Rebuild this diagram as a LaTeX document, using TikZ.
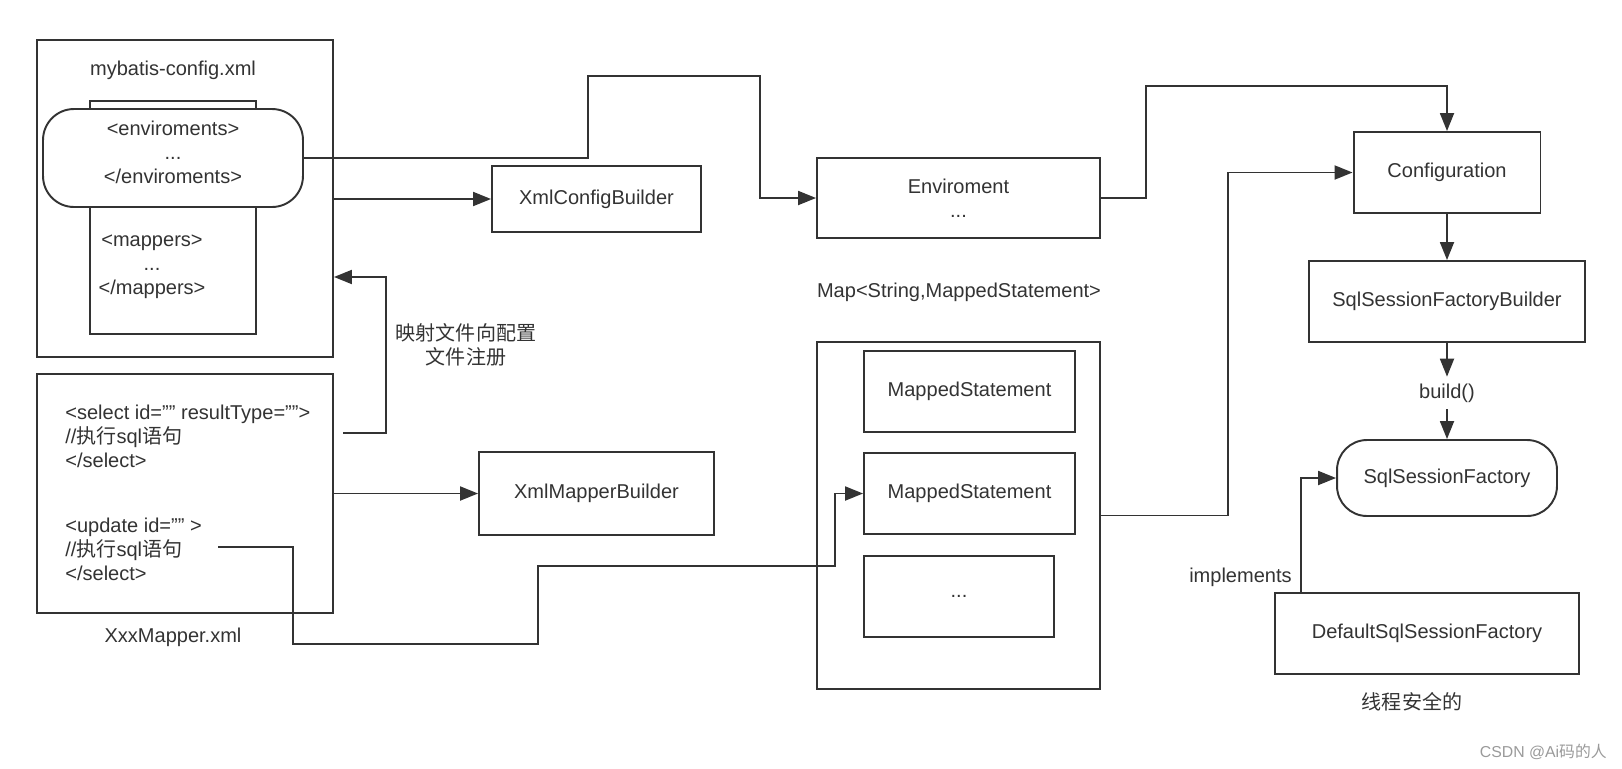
\documentclass[tikz,border=0pt]{standalone}
\usepackage{fontspec}
\setmainfont{Liberation Sans}
\newfontfamily\cjk{Noto Sans CJK SC}
\usepackage{tikz}
\usetikzlibrary{arrows.meta,calc,positioning}
\definecolor{linec}{HTML}{333333}
\definecolor{textc}{HTML}{333333}
\definecolor{markc}{HTML}{9A9A9A}
\newcommand{\dgfont}{\fontsize{11.4pt}{13.6pt}\selectfont}

\begin{document}
\begin{tikzpicture}[x=0.02cm, y=-0.02cm,
  every node/.style={text=textc, font=\dgfont},
  box/.style={draw=linec, line width=1.1pt, fill=white, inner sep=0pt, align=center},
  pill/.style={box, rounded corners=0.62cm},
  txt/.style={inner sep=0pt, align=center},
  conn/.style={draw=linec, line width=1.1pt},
  arr/.style={conn, -{Triangle[length=0.36cm, width=0.28cm]}}]

\useasboundingbox (0,0) rectangle (1622,768);

% config file
\node[box, minimum width=5.92cm, minimum height=6.34cm] (cfgfile) at (185,198.5) {};
\node[txt] (cfgtitle) at (173,70) {mybatis-config.xml};
\node[box, minimum width=3.32cm, minimum height=4.66cm] (mapbox) at (173,217.5) {};
\node[txt] (maptxt) at (152,267) {<mappers>\\...\\</mappers>};
\node[pill, minimum width=5.2cm, minimum height=1.96cm] (env) at (173,158) {};
\node[txt] (envtxt) at (173,152) {<enviroments>\\...\\</enviroments>};

% mapper file
\node[box, minimum width=5.92cm, minimum height=4.78cm] (mapperfile) at (185,493.5) {};
\node[txt, anchor=west, align=left] (seltxt) at (65,436)
  {<select id="" resultType="">\\//{\cjk 执行}sql{\cjk 语句}\\</select>};
\node[txt, anchor=west, align=left] (updtxt) at (65,549)
  {<update id="" >\\//{\cjk 执行}sql{\cjk 语句}\\</select>};
\node[txt] (mapcap) at (173,637) {XxxMapper.xml};
\coordinate (selend) at (343,433);
\coordinate (updend) at (218,547);

% builders
\node[box, minimum width=4.18cm, minimum height=1.32cm] (xcb) at (596.5,199) {XmlConfigBuilder};
\node[box, minimum width=4.7cm, minimum height=1.66cm] (xmb) at (596.5,493.5) {XmlMapperBuilder};
\node[txt, font=\dgfont\cjk] (reg) at (466,345) {映射文件向配置\\文件注册};

% environment and statements
\node[box, minimum width=5.66cm, minimum height=1.6cm] (envobj) at (958.5,198) {Enviroment\\...};
\node[txt] (maplbl) at (959,292) {Map<String,MappedStatement>};
\node[box, minimum width=5.66cm, minimum height=6.94cm] (msmap) at (958.5,515.5) {};
\node[box, minimum width=4.22cm, minimum height=1.62cm] (ms1) at (969.5,391.5) {MappedStatement};
\node[box, minimum width=4.22cm, minimum height=1.62cm] (ms2) at (969.5,493.5) {MappedStatement};
\node[box, minimum width=3.8cm, minimum height=1.62cm] (msdots) at (959,596.5) {...};

% right column
\node[box, minimum width=3.74cm, minimum height=1.62cm] (conf) at (1447,172.5) {Configuration};
\node[box, minimum width=5.52cm, minimum height=1.62cm] (ssfb) at (1447,301.5) {SqlSessionFactoryBuilder};
\node[txt, minimum height=0.64cm] (build) at (1447,393) {build()};
\node[pill, minimum width=4.4cm, minimum height=1.52cm, rounded corners=0.6cm] (ssf) at (1447,478) {SqlSessionFactory};
\node[box, minimum width=6.08cm, minimum height=1.62cm] (dssf) at (1427,633.5) {DefaultSqlSessionFactory};
\node[txt, anchor=east] (impl) at (1292,577) {implements};
\node[txt, font=\dgfont\cjk] (safe) at (1412,702) {线程安全的};
\node[txt, anchor=east, text=markc, font=\fontsize{9pt}{11pt}\selectfont] (wm) at (1607,752)
  {CSDN @Ai{\cjk 码的人}};

% config file -> builder, environments -> Enviroment
\draw[arr] (cfgfile.east |- xcb.west) -- (xcb.west);
\draw[arr] (env.east) -- ++(284,0) |- (760,76) |- (envobj.west);
% mapper file -> builder, register, statements
\draw[arr] (mapperfile.east |- xmb.west) -- (xmb.west);
\draw[arr] (selend) -- ++(43,0) |- ([yshift=-1.57cm]cfgfile.east);
\draw[arr] (updend) -| ++(75,97) -| ++(245,-78) -| ([xshift=-0.56cm]ms2.west) -- (ms2.west);
% into Configuration
\draw[arr] (envobj.east) -- ++(45,0) -- ++(0,-112) -| (conf.north);
\draw[arr] (msmap.east) -- ++(127,0) |- (conf.west);
% build chain
\draw[arr] (conf) -- (ssfb);
\draw[arr] (ssfb.south) -- (build.north);
\draw[arr] (build.south) -- (ssf.north);
\draw[arr] ([xshift=-2.52cm]dssf.north) |- (ssf.west);

\end{tikzpicture}
\end{document}
